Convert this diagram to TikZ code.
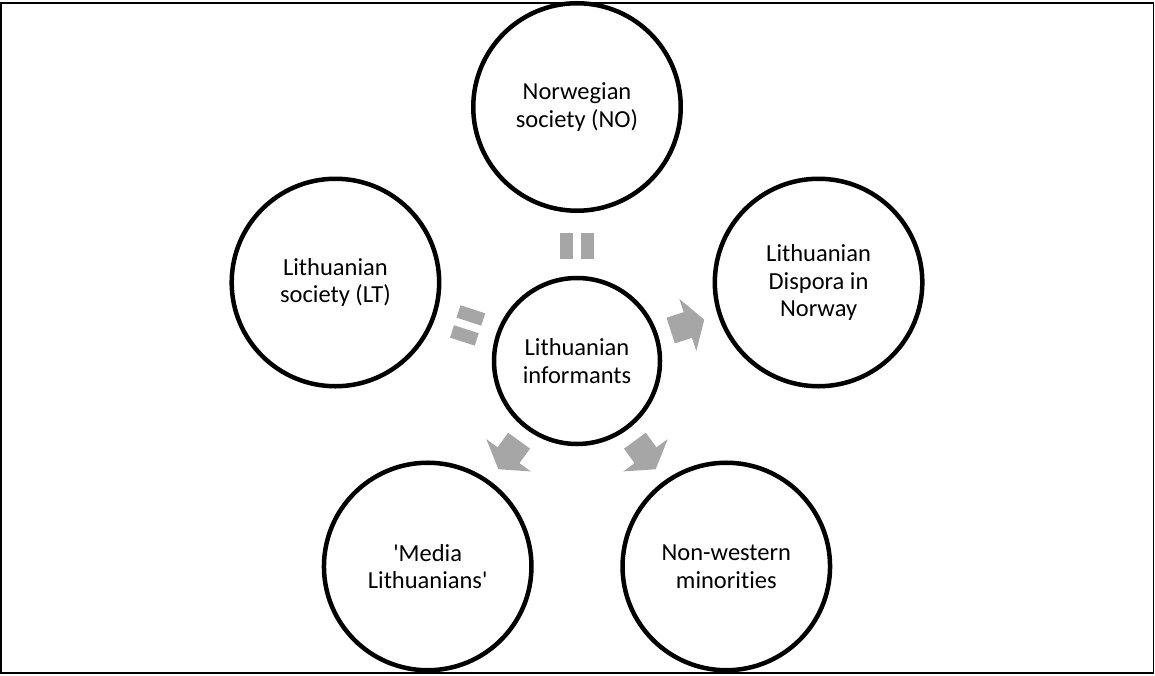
\documentclass[tikz,border=0pt]{standalone}
\usepackage{fontspec}
\setmainfont{Carlito}[Ligatures=NoCommon]
\usetikzlibrary{calc}
\definecolor{connfill}{RGB}{166,166,166}
\tikzset{
  outer/.style={circle, draw=black, line width=4.5pt, fill=white, minimum size=207.5pt, inner sep=0pt, align=center, font=\fontsize{24.5}{27.5}\selectfont},
  inner/.style={circle, draw=black, line width=4.5pt, fill=white, minimum size=166pt, inner sep=0pt, align=center, font=\fontsize{24.5}{27.5}\selectfont},
  garrow/.pic={\fill[connfill] (-16.5,-13.5) -- (1.5,-13.5) -- (1.5,-27.5) -- (18.8,0) -- (1.5,27.5) -- (1.5,13.5) -- (-16.5,13.5) -- cycle;},
  gequal/.pic={\fill[connfill] (-13,-17) rectangle (13,-4); \fill[connfill] (-13,4) rectangle (13,17);}
}
\begin{document}
\begin{tikzpicture}[x=1pt,y=1pt]
\useasboundingbox (0,0) rectangle (1155,675);
\draw[black, line width=1.3pt] (1,2) rectangle (1153.5,672);
\coordinate (o) at (577,314);
\node[inner] (c) at (o) {Lithuanian\\informants};
\node[outer] (no) at ($(o)+(90:254pt)$) {Norwegian\\society (NO)};
\node[outer] (lt) at ($(o)+(162:254pt)$) {Lithuanian\\society (LT)};
\node[outer] (dn) at ($(o)+(18:254pt)$) {Lithuanian\\Dispora in\\Norway};
\node[outer] (ml) at ($(o)+(234:254pt)$) {\textquotesingle Media\\Lithuanians\textquotesingle};
\node[outer] (nw) at ($(o)+(306:254pt)$) {Non-western\\minorities};
\coordinate (m1) at ($(c.center)!115pt!(no.center)$);
\coordinate (m2) at ($(c.center)!115pt!(lt.center)$);
\coordinate (m3) at ($(c.center)!115pt!(dn.center)$);
\coordinate (m4) at ($(c.center)!115pt!(ml.center)$);
\coordinate (m5) at ($(c.center)!115pt!(nw.center)$);
\path (m1) pic[rotate=90] {gequal};
\path (m2) pic[rotate=162] {gequal};
\path (m3) pic[rotate=18] {garrow};
\path (m4) pic[rotate=234] {garrow};
\path (m5) pic[rotate=306] {garrow};
\end{tikzpicture}
\end{document}
